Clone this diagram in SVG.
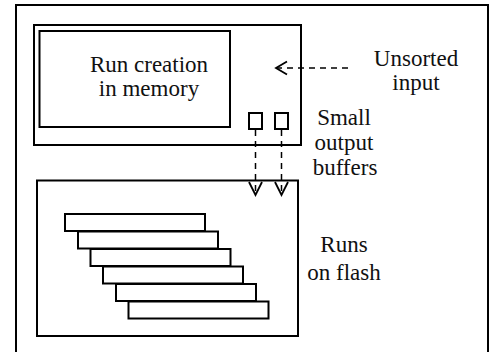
<svg xmlns="http://www.w3.org/2000/svg" width="490" height="352" viewBox="0 0 490 352">
<style>
.box{fill:none;stroke:#000;stroke-width:2}
.bar{fill:#fff;stroke:#000;stroke-width:2}
.dash{fill:none;stroke:#000;stroke-width:1.5;stroke-dasharray:6 5}
.head{fill:none;stroke:#000;stroke-width:1.8}
.t{font-family:'Liberation Serif','Times New Roman',serif;font-size:23px;fill:#111;text-anchor:middle}
</style>
<rect width="490" height="352" fill="#fff"/>
<g id="frame"><rect class="box" x="16" y="5" width="472" height="370"/></g>
<g id="memory">
<rect class="box" x="34" y="25" width="267" height="120" stroke-width="2.5"/>
<rect class="box" x="39.5" y="31" width="190.5" height="96" stroke-width="2.5"/>
<text class="t" x="149" y="72">Run creation</text>
<text class="t" x="149" y="96">in memory</text>
</g>
<g id="buffers">
<rect class="box" x="249" y="113" width="13" height="16"/>
<rect class="box" x="275" y="113" width="13" height="16"/>
</g>
<g id="flash">
<rect class="box" x="37" y="180.5" width="261" height="155.5"/>
<rect class="bar" x="65" y="214" width="140" height="17"/>
<rect class="bar" x="78" y="231.5" width="140" height="17"/>
<rect class="bar" x="90.5" y="249" width="140" height="17"/>
<rect class="bar" x="103" y="266.5" width="140" height="17"/>
<rect class="bar" x="116" y="284" width="140" height="17"/>
<rect class="bar" x="128.5" y="301.5" width="140" height="17"/>
</g>
<g id="labels">
<text class="t" x="416" y="66">Unsorted</text>
<text class="t" x="416" y="90">input</text>
<text class="t" x="344" y="125">Small</text>
<text class="t" x="344" y="150">output</text>
<text class="t" x="345" y="175">buffers</text>
<text class="t" x="344" y="252">Runs</text>
<text class="t" x="344" y="280">on flash</text>
</g>
<g id="connectors">
<line class="dash" x1="348" y1="68" x2="277" y2="68"/>
<polyline class="head" points="287,61.5 276,68 287,74.5"/>
<line class="dash" x1="255.5" y1="130" x2="255.5" y2="194"/>
<polyline class="head" points="249,182 255.5,195 262,182"/>
<line class="dash" x1="281.5" y1="130" x2="281.5" y2="194"/>
<polyline class="head" points="275,182 281.5,195 288,182"/>
</g>
</svg>
